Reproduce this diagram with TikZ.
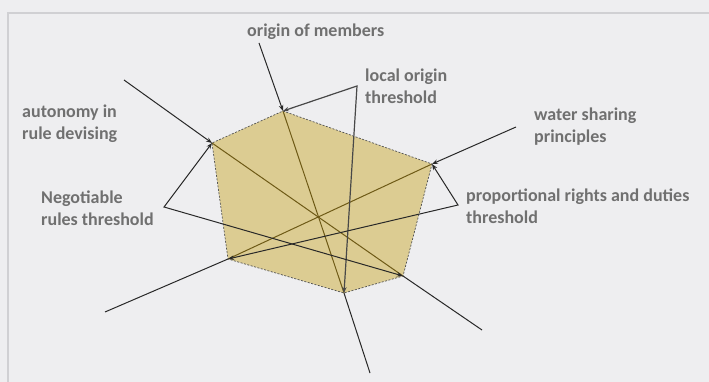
\documentclass[tikz,border=0pt]{standalone}
\usepackage{fontspec}
\setmainfont{Carlito}
\usetikzlibrary{arrows.meta}
\definecolor{bg}{RGB}{238,238,240}
\definecolor{frame}{RGB}{208,208,211}
\definecolor{polyfill}{RGB}{220,204,146}
\definecolor{olive}{RGB}{110,90,22}
\definecolor{ink}{RGB}{40,40,40}
\definecolor{lbl}{RGB}{112,112,112}
\tikzset{
  lab/.style={anchor=west,inner sep=0pt,align=left,text=lbl,font=\bfseries\fontsize{18}{22}\selectfont},
  axis/.style={draw=ink,line width=1pt},
  inner/.style={draw=olive,line width=1pt},
  thr/.style={draw=ink,line width=1pt,{Stealth[length=6pt,width=4.5pt]}-{Stealth[length=6pt,width=4.5pt]}},
  tip/.style={-{Stealth[length=6pt,width=4.5pt]}},
  edge/.style={draw=ink!80,line width=0.7pt,dash pattern=on 2pt off 1.5pt}
}
\begin{document}
\begin{tikzpicture}[x=1pt,y=-1pt]
\useasboundingbox (0,0) rectangle (709,382);
\fill[bg] (0,0) rectangle (709,382);
\draw[frame,line width=1.2pt] (8,382) -- (8,13) -- (709,13);
% vertices
\coordinate (v1) at (283,111);
\coordinate (v2) at (212,143);
\coordinate (v3) at (432,164);
\coordinate (v4) at (403,276);
\coordinate (v5) at (344,293);
\coordinate (v6) at (228,259);
% outer ends
\coordinate (o1) at (259,43);
\coordinate (o2) at (124,80);
\coordinate (o3) at (516,127);
\coordinate (e1) at (370,373);
\coordinate (e2) at (482,330);
\coordinate (e3) at (105,312);
% threshold corners
\coordinate (c1) at (357,86);
\coordinate (c2) at (164,207);
\coordinate (c3) at (458,205);
% polygon fill
\fill[polyfill] (v1) -- (v3) -- (v4) -- (v5) -- (v6) -- (v2) -- cycle;
% inner segments of the axes
\draw[inner] (v1) -- (v5);
\draw[inner] (v2) -- (v4);
\draw[inner] (v3) -- (v6);
% outer parts of axes
\draw[axis,tip] (o1) -- (v1);
\draw[axis,tip] (o2) -- (v2);
\draw[axis,tip] (o3) -- (v3);
\draw[axis] (v5) -- (e1);
\draw[axis] (v4) -- (e2);
\draw[axis] (v6) -- (e3);
% polygon border
\draw[edge] (v1) -- (v3) -- (v4) -- (v5) -- (v6) -- (v2) -- cycle;
% thresholds
\draw[thr,draw=ink!85,line width=1.2pt] (v1) -- (c1) -- (v5);
\draw[thr] (v2) -- (c2) -- (v4);
\draw[thr] (v3) -- (c3) -- (v6);
% labels
\node[lab] (lorig) at (247,32) {origin of members};
\node[lab] (lloc) at (365,86) {local origin\\threshold};
\node[lab] (lwat) at (534,127) {water sharing\\principles};
\node[lab] (lprop) at (466,206) {proportional rights and duties\\threshold};
\node[lab] (laut) at (22,124) {autonomy in\\rule devising};
\node[lab] (lneg) at (41,208) {Negotiable\\rules threshold};
\end{tikzpicture}
\end{document}
